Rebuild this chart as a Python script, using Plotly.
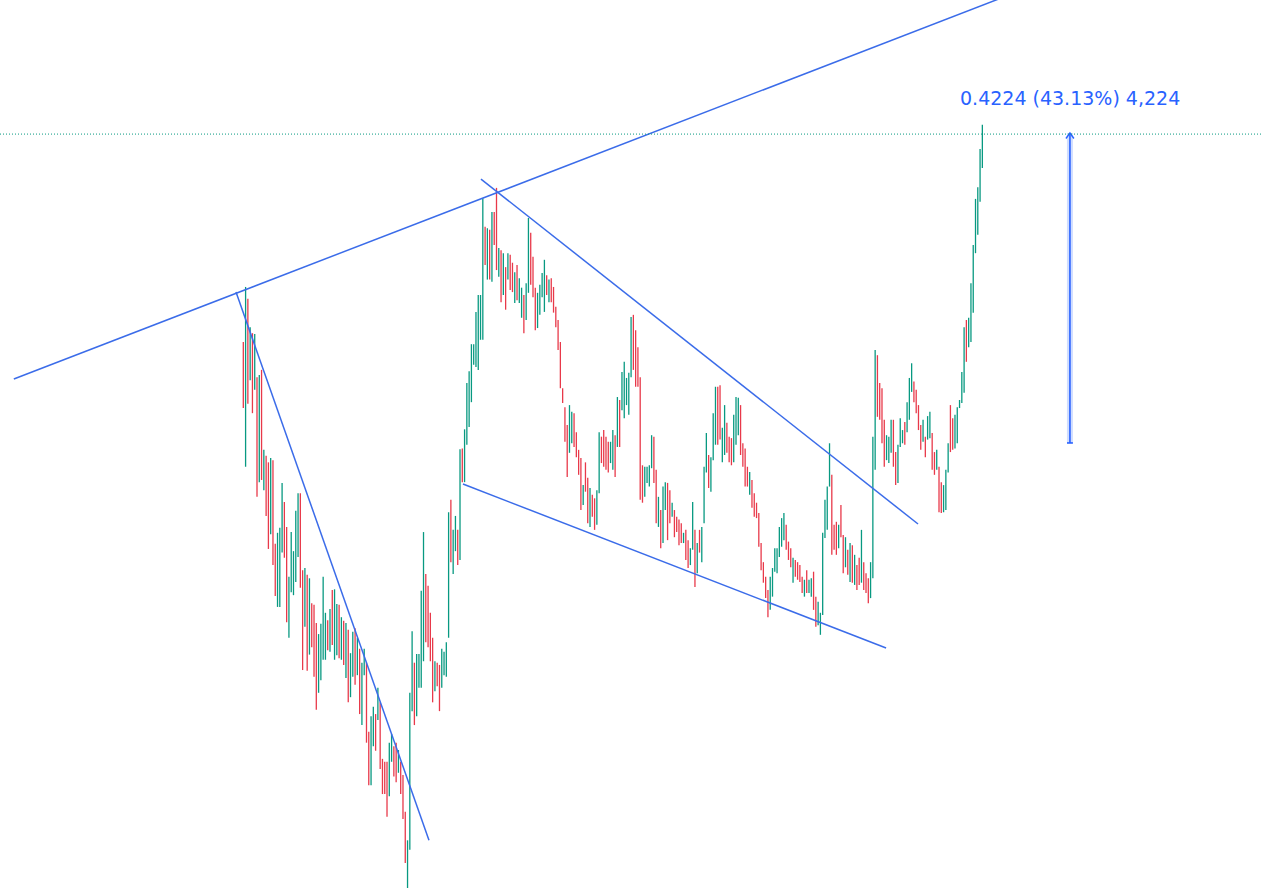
import plotly.graph_objects as go

# ---------------- data ----------------
bar_highs = [
    1.117, 1.192, 1.176, 1.137, 1.129, 1.128, 1.069, 1.072, 1.079, 0.970,
    0.962,
    0.953, 0.959, 0.956, 0.842, 0.857, 0.864, 0.925, 0.899, 0.865, 0.797,
    0.858, 0.832, 0.887, 0.911, 0.911, 0.806, 0.809, 0.800, 0.795, 0.761,
    0.759, 0.734, 0.719, 0.733, 0.797, 0.748, 0.738, 0.753, 0.779, 0.780,
    0.760,
    0.759, 0.742, 0.737, 0.734, 0.725, 0.693, 0.722, 0.727, 0.714, 0.699,
    0.680, 0.699, 0.680, 0.586, 0.607, 0.620,
    0.610,
    0.646, 0.626, 0.549, 0.545, 0.545, 0.571, 0.583,
    0.566,
    0.571, 0.561, 0.545, 0.527, 0.477, 0.438, 0.639,
    0.723, 0.680, 0.692, 0.692, 0.778, 0.858, 0.801, 0.785, 0.748, 0.714,
    0.682, 0.680, 0.677, 0.699, 0.695, 0.708, 0.885, 0.902, 0.861, 0.880,
    0.861, 0.971, 0.972, 0.998, 1.061, 1.077, 1.114, 1.114, 1.158, 1.181,
    1.181, 1.313, 1.274, 1.272, 1.270, 1.294, 1.294, 1.327, 1.245, 1.242,
    1.238, 1.219, 1.238, 1.236, 1.225, 1.212, 1.222, 1.204, 1.191, 1.181,
    1.197, 1.286, 1.266, 1.233, 1.191, 1.184, 1.195, 1.211, 1.229, 1.208,
    1.202, 1.204, 1.192, 1.165, 1.147, 1.117, 1.054, 1.028, 1.004, 1.031,
    1.022, 1.020, 0.994, 0.970, 0.959, 0.922, 0.953, 0.932, 0.918, 0.909,
    0.904, 0.915, 0.994, 0.988, 0.997, 0.988, 0.981, 0.981, 0.997, 0.990,
    1.042, 1.038, 1.076, 1.090, 1.068, 1.075, 1.151, 1.154, 1.133, 1.110,
    1.069, 0.949, 0.947, 0.947, 0.949, 0.990, 0.988, 0.943, 0.906, 0.888,
    0.920, 0.926, 0.925, 0.915, 0.898, 0.888, 0.879, 0.875, 0.870, 0.857,
    0.861, 0.847, 0.836, 0.899, 0.861, 0.843, 0.861, 0.865, 0.947, 0.993,
    0.963, 0.960, 1.020, 1.056, 1.056, 1.058, 1.000, 1.031, 1.007, 0.988,
    0.986, 1.018, 1.042, 1.041, 1.031, 0.979, 0.972, 0.947, 0.940, 0.929,
    0.911, 0.898, 0.884, 0.843, 0.817, 0.797, 0.779, 0.797, 0.809, 0.836,
    0.836, 0.865, 0.877, 0.884, 0.868, 0.845, 0.836, 0.823, 0.820, 0.817,
    0.813, 0.797, 0.793, 0.806, 0.793, 0.795, 0.804, 0.770, 0.763, 0.748,
    0.857, 0.902, 0.920, 0.979, 0.936, 0.868, 0.872, 0.868, 0.895, 0.854,
    0.851, 0.834, 0.843, 0.840, 0.827, 0.813, 0.823, 0.861, 0.817, 0.802,
    0.795, 0.817, 0.988, 1.106, 1.099, 1.061, 1.054, 1.011, 0.990, 0.988,
    1.011, 1.011, 0.967, 0.977, 1.013, 0.997, 1.008, 1.035, 1.068, 1.088,
    1.063, 1.052, 1.031, 1.004, 1.011, 0.988, 1.016, 1.022, 0.993, 0.967,
    0.970, 0.947, 0.926, 0.922, 0.943, 0.979, 1.031, 1.013, 1.018, 1.028,
    1.038, 1.076, 1.137, 1.147, 1.150, 1.197, 1.249, 1.312, 1.328, 1.380,
    1.413,
]

bar_lows = [
    1.027, 0.947, 1.033, 1.065, 1.020, 1.052, 0.906, 0.926, 0.929, 0.915,
    0.880,
    0.835, 0.855, 0.813, 0.771, 0.756, 0.756, 0.830, 0.823, 0.735, 0.714,
    0.776, 0.772, 0.790, 0.824, 0.782, 0.670, 0.729, 0.669, 0.691, 0.701,
    0.661, 0.616, 0.639, 0.656, 0.684, 0.684, 0.697, 0.695, 0.704, 0.684,
    0.690,
    0.686, 0.684, 0.677, 0.659, 0.626, 0.633, 0.661, 0.650, 0.663, 0.610,
    0.595, 0.663, 0.571, 0.513, 0.513, 0.566,
    0.560,
    0.602, 0.535, 0.501, 0.501, 0.470, 0.498, 0.545,
    0.525,
    0.517, 0.530, 0.501, 0.467, 0.407, 0.373, 0.425,
    0.614, 0.595, 0.607, 0.646, 0.646, 0.682, 0.708, 0.701, 0.682, 0.626,
    0.641, 0.648, 0.614, 0.646, 0.663, 0.661, 0.714, 0.817, 0.801, 0.832,
    0.813, 0.820, 0.926, 0.926, 0.977, 1.001, 1.035, 1.086, 1.083, 1.079,
    1.120, 1.120, 1.222, 1.202, 1.202, 1.199, 1.249, 1.215, 1.206, 1.171,
    1.181, 1.161, 1.202, 1.188, 1.185, 1.170, 1.174, 1.170, 1.150, 1.129,
    1.147, 1.184, 1.195, 1.178, 1.133, 1.136, 1.154, 1.178, 1.158, 1.181,
    1.171, 1.171, 1.157, 1.137, 1.106, 1.054, 1.034, 0.981, 0.933, 0.966,
    0.979, 0.974, 0.960, 0.936, 0.888, 0.895, 0.913, 0.870, 0.865, 0.879,
    0.861, 0.868, 0.911, 0.952, 0.947, 0.943, 0.939, 0.952, 0.943, 0.933,
    0.974, 0.974, 1.024, 1.013, 1.031, 1.018, 1.069, 1.079, 1.056, 1.056,
    0.902, 0.898, 0.906, 0.925, 0.920, 0.945, 0.925, 0.870, 0.865, 0.836,
    0.843, 0.888, 0.847, 0.870, 0.879, 0.851, 0.858, 0.840, 0.843, 0.843,
    0.820, 0.809, 0.813, 0.834, 0.783, 0.802, 0.830, 0.817, 0.870, 0.939,
    0.918, 0.913, 0.956, 0.977, 0.977, 0.984, 0.953, 0.963, 0.966, 0.953,
    0.949, 0.953, 0.977, 0.990, 0.963, 0.947, 0.920, 0.920, 0.909, 0.891,
    0.879, 0.877, 0.838, 0.806, 0.789, 0.768, 0.742, 0.752, 0.770, 0.804,
    0.802, 0.824, 0.838, 0.847, 0.834, 0.820, 0.810, 0.789, 0.797, 0.793,
    0.790, 0.775, 0.770, 0.775, 0.775, 0.770, 0.752, 0.729, 0.731, 0.718,
    0.745, 0.850, 0.861, 0.920, 0.827, 0.834, 0.827, 0.836, 0.851, 0.802,
    0.810, 0.800, 0.790, 0.789, 0.786, 0.779, 0.786, 0.789, 0.779, 0.775,
    0.761, 0.768, 0.795, 0.943, 1.015, 1.011, 0.979, 0.947, 0.956, 0.952,
    0.966, 0.947, 0.922, 0.925, 0.974, 0.979, 0.977, 0.994, 1.011, 1.049,
    1.035, 1.020, 0.997, 0.970, 0.981, 0.960, 0.984, 0.986, 0.943, 0.936,
    0.943, 0.885, 0.884, 0.885, 0.888, 0.939, 0.967, 0.970, 0.972, 0.979,
    1.027, 1.034, 1.048, 1.090, 1.110, 1.117, 1.157, 1.238, 1.263, 1.308,
    1.354,
]

# g = up bar (green), r = down bar (red)
bar_dirs = list(
    "rgrgrgrgrg" "r"
    "rgrrgggrrg" "ggggrrgrgr" "rrggggrgrg" "g"
    "rgrgrggrgr" "ggrrgg" "r" "grrrrgg" "r" "rgrrrgg"
    "grggggrrrr" "grrggggrgg" "rgrggggggg" "ggrgrgrrgr"
    "grgrrgrggr" "ggrrrggggr" "grrrrrrrrg" "grrrrgrrgr"
    "rggrrrrggr" "grgggggrrr" "rrggggrrgr" "ggrrgrrrrg"
    "rrggrgrggg" "rgggrrggrr" "rgggrrrrgr" "rrrrrrrggg"
    "ggggrrrgrr" "rrgrggrrgg" "ggggrrrgrr" "grgrgrrgrr"
    "rgggrrrrgg" "grrgggrggg" "rrrrgrggrr" "grrgggrrgg"
    "gggrgggggg" "g"
)

last_close = 1.4003

# trend lines: (bar index, price) anchor pairs
upper_line = [(-100.6, 1.0665), (335.0, 1.589)]
steep_line = [(-3.2, 1.185), (81.4, 0.438)]
wedge_top_line = [(104.2, 1.339), (295.8, 0.869)]
wedge_bottom_line = [(96.3, 0.9235), (281.8, 0.700)]

# price-range measurement
measure_bar = 362.4
measure_from = 0.9794
measure_to = 1.4018
measure_ticks = 4224

# ---------------- figure ----------------
GREEN = "#089981"
RED = "#e8394a"
LINE_BLUE = "#3b6ce9"
BLUE = "#2962ff"

fig = go.Figure()

for want, color in (("g", GREEN), ("r", RED)):
    xs, ys = [], []
    for i, (hi, lo, d) in enumerate(zip(bar_highs, bar_lows, bar_dirs)):
        if d == want:
            xs += [i, i, None]
            ys += [lo, hi, None]
    fig.add_trace(go.Scatter(
        x=xs, y=ys, mode="lines", line=dict(color=color, width=1.3),
        hoverinfo="skip", connectgaps=False,
    ))

# last price dotted line
fig.add_hline(y=last_close, line=dict(color=GREEN, width=1, dash="1px,2px"))

for ln in (upper_line, steep_line, wedge_top_line, wedge_bottom_line):
    fig.add_trace(go.Scatter(
        x=[p[0] for p in ln], y=[p[1] for p in ln], mode="lines",
        line=dict(color=LINE_BLUE, width=1.5), hoverinfo="skip",
    ))

# measurement arrow: halo + line + head + base tick
fig.add_trace(go.Scatter(
    x=[measure_bar, measure_bar], y=[measure_from, measure_to], mode="lines",
    line=dict(color="rgba(41,98,255,0.22)", width=6), hoverinfo="skip",
))
fig.add_trace(go.Scatter(
    x=[measure_bar, measure_bar], y=[measure_from, measure_to], mode="lines",
    line=dict(color=BLUE, width=1.6), hoverinfo="skip",
))
head_dx, head_dy = 1.75, 0.0075
fig.add_trace(go.Scatter(
    x=[measure_bar - head_dx, measure_bar, measure_bar + head_dx],
    y=[measure_to - head_dy, measure_to, measure_to - head_dy],
    mode="lines", line=dict(color=BLUE, width=1.4), hoverinfo="skip",
))
fig.add_trace(go.Scatter(
    x=[measure_bar - 1.3, measure_bar + 1.3], y=[measure_from, measure_from],
    mode="lines", line=dict(color=BLUE, width=1.6), hoverinfo="skip",
))

diff = measure_to - measure_from
pct = diff / measure_from * 100
label = f"{diff:.4f} ({pct:.2f}%) {measure_ticks:,}"
fig.add_annotation(
    x=measure_bar, y=measure_to, text=label, showarrow=False,
    xanchor="center", yanchor="middle", yshift=35,
    font=dict(family="DejaVu Sans", size=19, color=BLUE),
)

fig.update_layout(
    width=1262, height=888,
    margin=dict(l=0, r=0, t=0, b=0),
    paper_bgcolor="white", plot_bgcolor="white",
    showlegend=False,
    xaxis=dict(visible=False, range=[-106.67, 446.6]),
    yaxis=dict(visible=False, range=[0.373, 1.583]),
)

fig.write_html(
    "out.html",
    config={"displayModeBar": False},
    post_script="document.body.style.margin='0';document.body.style.overflow='hidden';",
)
